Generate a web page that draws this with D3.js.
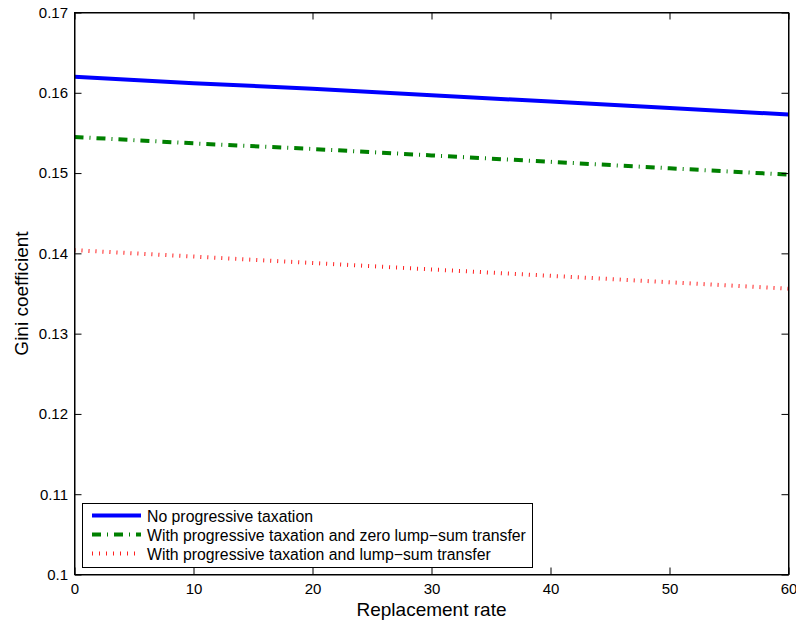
<!DOCTYPE html>
<html>
<head>
<meta charset="utf-8">
<script src="https://cdn.jsdelivr.net/npm/d3@7"></script>
<style>
  body { margin: 0; background: #fff; }
  text { font-family: "Liberation Sans", Arial, sans-serif; fill: #000; }
</style>
</head>
<body>
<svg width="796" height="622"></svg>
<script>
'use strict';
// data
const rates = [0, 10, 20, 30, 40, 50, 60];
const noProgressive = [0.1620, 0.1612, 0.1605, 0.1597, 0.1589, 0.1581, 0.1573];
const progZeroLump = [0.1545, 0.1537, 0.1530, 0.1522, 0.1514, 0.1506, 0.1498];
const progLump = [0.1404, 0.1396, 0.1388, 0.1380, 0.1372, 0.1364, 0.1356];
const xTicks = [0, 10, 20, 30, 40, 50, 60];
const yTicks = [0.1, 0.11, 0.12, 0.13, 0.14, 0.15, 0.16, 0.17];
const seriesNames = [
  'No progressive taxation',
  'With progressive taxation and zero lump\u2212sum transfer',
  'With progressive taxation and lump\u2212sum transfer'
];

const svg = d3.select('svg');
const pLeft = 74.5, pRight = 788.5, pTop = 12.5, pBottom = 574.5;

const x = d3.scaleLinear().domain([0, 60]).range([pLeft, pRight]);
const y = d3.scaleLinear().domain([0.1, 0.17]).range([pBottom, pTop]);

// series styles
const series = [
  {vals: noProgressive, color: '#0000ff', width: 4, dash: null},
  {vals: progZeroLump, color: '#008000', width: 4, dash: '9,6,1,6'},
  {vals: progLump, color: '#ff2020', width: 4, dash: '1,6'}
];

const plot = svg.append('g');
plot.append('clipPath').attr('id', 'clip')
  .append('rect').attr('x', pLeft).attr('y', pTop)
  .attr('width', pRight - pLeft).attr('height', pBottom - pTop);

const line = d3.line().x((d, i) => x(rates[i])).y(d => y(d));

plot.selectAll('path.series')
  .data(series)
  .join('path')
  .attr('class', 'series')
  .attr('clip-path', 'url(#clip)')
  .attr('d', d => line(d.vals))
  .attr('fill', 'none')
  .attr('stroke', d => d.color)
  .attr('stroke-width', d => d.width)
  .attr('stroke-dasharray', d => d.dash);

// axes, MATLAB style: ticks inside on all four sides
const tickLen = 7;
const xBottom = svg.append('g').attr('transform', `translate(0,${pBottom})`)
  .call(d3.axisBottom(x).tickValues(xTicks).tickSizeInner(-tickLen).tickSizeOuter(0).tickPadding(9));
const xTop = svg.append('g').attr('transform', `translate(0,${pTop})`)
  .call(d3.axisTop(x).tickValues(xTicks).tickSizeInner(-tickLen).tickSizeOuter(0).tickFormat(''));
const yLeft = svg.append('g').attr('transform', `translate(${pLeft},0)`)
  .call(d3.axisLeft(y).tickValues(yTicks).tickSizeInner(-tickLen).tickSizeOuter(0)
    .tickPadding(6.5).tickFormat(d3.format('~g')));
const yRight = svg.append('g').attr('transform', `translate(${pRight},0)`)
  .call(d3.axisRight(y).tickValues(yTicks).tickSizeInner(-tickLen).tickSizeOuter(0).tickFormat(''));

[xBottom, xTop, yLeft, yRight].forEach(a => {
  a.select('.domain').attr('stroke', '#000');
  a.selectAll('.tick line').attr('stroke', '#000');
  a.selectAll('.tick text').attr('font-size', 15)
    .attr('font-family', '"Liberation Sans", Arial, sans-serif').attr('fill', '#000');
});
// frame box
svg.append('rect').attr('x', pLeft).attr('y', pTop)
  .attr('width', pRight - pLeft).attr('height', pBottom - pTop)
  .attr('fill', 'none').attr('stroke', '#000').attr('stroke-width', 1);

// axis labels
svg.append('text').attr('x', (pLeft + pRight) / 2).attr('y', 616)
  .attr('text-anchor', 'middle').attr('font-size', 19).text('Replacement rate');
svg.append('text').attr('transform', `translate(28,${(pTop + pBottom) / 2}) rotate(-90)`)
  .attr('text-anchor', 'middle').attr('font-size', 19).text('Gini coefficient');

// legend
const legend = svg.append('g');
legend.append('rect').attr('x', 82.5).attr('y', 503.5)
  .attr('width', 450).attr('height', 64)
  .attr('fill', '#fff').attr('stroke', '#000');
const rowY = [515.5, 534.5, 553.5];
series.forEach((s, i) => {
  legend.append('line')
    .attr('x1', 92).attr('x2', 141)
    .attr('y1', rowY[i]).attr('y2', rowY[i])
    .attr('stroke', s.color).attr('stroke-width', s.width)
    .attr('stroke-dasharray', s.dash);
  legend.append('text').attr('x', 147).attr('y', rowY[i] + 6)
    .attr('font-size', 15.8).text(seriesNames[i]);
});
</script>
</body>
</html>
